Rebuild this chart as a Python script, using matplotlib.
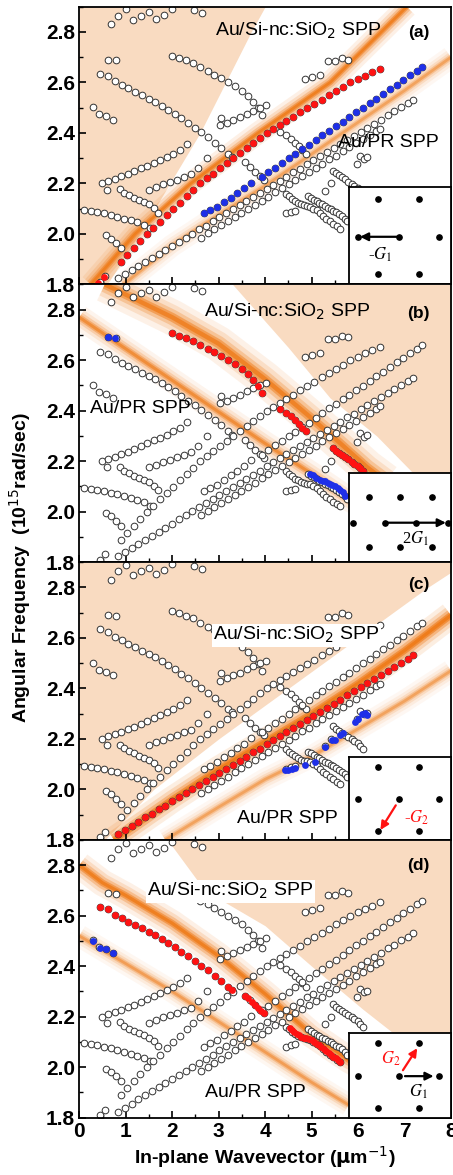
import matplotlib
matplotlib.use("Agg")
import matplotlib.pyplot as plt
from matplotlib.ticker import MultipleLocator

plt.rcParams['font.family'] = ['Liberation Sans', 'DejaVu Sans']

# --- open circles: measured modes (identical in all four panels) ---
top_x = [0.68, 0.84, 1.01, 1.16, 1.32, 1.50, 1.66, 1.82, 2.00, 2.47, 2.64]
top_y = [2.830, 2.865, 2.889, 2.849, 2.865, 2.878, 2.852, 2.869, 2.891, 2.885, 2.873]

pair_x = [0.62, 0.79]
pair_y = [2.690, 2.687]

sb_x = [0.30, 0.43, 0.58, 0.73]
sb_y = [2.502, 2.474, 2.466, 2.452]

d1_x = [0.45, 0.61, 0.76, 0.91, 1.05, 1.20, 1.34, 1.49, 1.63, 1.77, 1.92, 2.06,
        2.20, 2.35, 2.49, 2.63, 2.78, 2.92, 3.06, 3.20, 3.28]
d1_y = [2.634, 2.625, 2.604, 2.590, 2.576, 2.564, 2.550, 2.536, 2.524, 2.508, 2.492, 2.476,
        2.458, 2.440, 2.421, 2.402, 2.383, 2.362, 2.342, 2.318, 2.305]

d1b_x = [3.57, 3.68, 3.79, 3.89, 3.98]
d1b_y = [2.283, 2.265, 2.245, 2.228, 2.214]

d2_x = [2.00, 2.15, 2.30, 2.45, 2.60, 2.76, 2.91, 3.06, 3.21, 3.36, 3.50, 3.63, 3.74, 3.85, 3.93]
d2_y = [2.706, 2.697, 2.688, 2.677, 2.660, 2.645, 2.631, 2.616, 2.600, 2.584, 2.566, 2.545,
        2.522, 2.498, 2.470]

d3_x = [0.10, 0.245, 0.39, 0.53, 0.675, 0.82, 0.96, 1.105, 1.25, 1.39, 1.52]
d3_y = [2.094, 2.090, 2.086, 2.081, 2.074, 2.068, 2.061, 2.054, 2.046, 2.037, 2.024]

d4_x = [0.57, 0.675, 0.78, 0.89]
d4_y = [1.994, 1.981, 1.964, 1.944]

d5_x = [0.87, 0.96, 1.07, 1.18, 1.285, 1.39, 1.50, 1.61, 1.69]
d5_y = [2.177, 2.163, 2.153, 2.143, 2.134, 2.126, 2.117, 2.103, 2.084]

d6_x = [4.33, 4.45, 4.55, 4.64, 4.72, 4.80, 4.88]
d6_y = [2.405, 2.390, 2.377, 2.362, 2.348, 2.332, 2.318]

r1_x = [0.48, 0.62, 0.76, 0.90, 1.04, 1.18, 1.32, 1.46, 1.60, 1.74, 1.88, 2.02, 2.16, 2.31]
r1_y = [2.200, 2.210, 2.218, 2.228, 2.238, 2.248, 2.260, 2.270, 2.282, 2.293, 2.305, 2.318,
        2.333, 2.355]

r2_x = [1.51, 1.66, 1.81, 1.96, 2.11, 2.26, 2.41, 2.55]
r2_y = [2.175, 2.186, 2.197, 2.206, 2.215, 2.226, 2.236, 2.262]

r3_x = [3.03, 3.06, 3.17, 3.31, 3.45, 3.60, 3.74, 3.88, 4.02]
r3_y = [2.430, 2.460, 2.440, 2.452, 2.463, 2.476, 2.488, 2.500, 2.510]

r4_x = [5.47, 5.53, 5.60, 5.66, 5.73, 5.79, 5.86, 5.92, 5.99, 6.05, 6.11]
r4_y = [2.251, 2.240, 2.232, 2.224, 2.216, 2.207, 2.198, 2.190, 2.182, 2.172, 2.160]

lone_x = [0.60, 2.74, 0.45, 0.56, 5.29, 5.42, 4.45, 4.55, 4.64, 5.97, 6.05, 6.12, 6.19,
          4.86, 5.00, 5.18, 5.36, 5.50, 5.65, 5.79]
lone_y = [2.175, 2.300, 1.810, 1.832, 2.170, 2.200, 2.081, 2.087, 2.091, 2.277, 2.310, 2.297,
          2.303, 2.613, 2.621, 2.630, 2.683, 2.683, 2.697, 2.690]

dc1_x = [4.93, 4.99, 5.05, 5.11, 5.17, 5.23, 5.29, 5.35, 5.41, 5.47, 5.53, 5.59, 5.65, 5.71, 5.76]
dc1_y = [2.150, 2.143, 2.136, 2.129, 2.123, 2.117, 2.110, 2.104, 2.098, 2.092, 2.085, 2.078,
         2.070, 2.061, 2.050]

dc2_x = [4.46, 4.52, 4.58, 4.64, 4.70, 4.77, 4.83, 4.90, 4.97, 5.04, 5.11, 5.18, 5.25, 5.32,
         5.40, 5.47, 5.54, 5.61]
dc2_y = [2.160, 2.150, 2.140, 2.131, 2.124, 2.118, 2.114, 2.111, 2.108, 2.100, 2.093, 2.082,
         2.070, 2.060, 2.050, 2.040, 2.030, 2.021]

la_x = [0.89, 1.03, 1.17, 1.31, 1.45, 1.59, 1.73, 1.88, 2.02, 2.16, 2.31, 2.45, 2.60, 2.74,
        2.88, 3.03, 3.17, 3.31, 3.46, 3.60, 3.74, 3.89, 4.03, 4.17, 4.32, 4.46, 4.61, 4.76,
        4.91, 5.06, 5.22, 5.37, 5.52, 5.67, 5.83, 5.99, 6.15, 6.31, 6.47]
la_y = [1.889, 1.917, 1.945, 1.972, 2.000, 2.024, 2.049, 2.075, 2.099, 2.124, 2.150, 2.174,
        2.200, 2.220, 2.239, 2.260, 2.280, 2.299, 2.320, 2.340, 2.360, 2.380, 2.400, 2.416,
        2.432, 2.448, 2.464, 2.481, 2.498, 2.514, 2.532, 2.549, 2.566, 2.582, 2.600, 2.613,
        2.627, 2.640, 2.653]

lb_x = [2.68, 2.82, 2.97, 3.11, 3.26, 3.40, 3.55, 3.69, 3.93, 4.07, 4.22, 4.36, 4.51, 4.65,
        4.80, 4.94, 5.09, 5.23, 5.38, 5.52, 5.67, 5.81, 5.96, 6.10, 6.25, 6.39, 6.54, 6.68,
        6.83, 6.97, 7.12, 7.26, 7.37]
lb_y = [2.081, 2.094, 2.107, 2.127, 2.144, 2.163, 2.180, 2.203, 2.226, 2.244, 2.263, 2.280,
        2.299, 2.317, 2.336, 2.353, 2.372, 2.390, 2.409, 2.426, 2.445, 2.463, 2.482, 2.499,
        2.518, 2.536, 2.555, 2.573, 2.591, 2.609, 2.628, 2.646, 2.660]

lc_x = [0.84, 0.98, 1.13, 1.27, 1.42, 1.56, 1.71, 1.85, 2.00, 2.14, 2.29, 2.43, 2.58, 2.72,
        2.87, 3.01, 3.16, 3.30, 3.45, 3.59, 3.74, 3.88, 4.03, 4.17, 4.32, 4.46, 4.61, 4.75,
        4.90, 5.04, 5.19, 5.33, 5.48, 5.62, 5.77, 5.91, 6.06, 6.20, 6.35, 6.49, 6.64, 6.78,
        6.93, 7.07, 7.19]
lc_y = [1.824, 1.840, 1.856, 1.872, 1.889, 1.904, 1.921, 1.936, 1.953, 1.969, 1.985, 2.001,
        2.018, 2.033, 2.050, 2.066, 2.082, 2.098, 2.114, 2.130, 2.147, 2.162, 2.179, 2.195,
        2.211, 2.227, 2.244, 2.259, 2.276, 2.291, 2.308, 2.324, 2.340, 2.356, 2.373, 2.388,
        2.405, 2.421, 2.437, 2.453, 2.470, 2.485, 2.502, 2.517, 2.531]

ld_x = [2.62, 2.77, 2.91, 3.06, 3.20, 3.35, 3.49, 3.64, 3.78, 3.93, 4.07, 4.22, 4.36, 4.51,
        4.65, 4.80, 4.94, 5.09, 5.23, 5.38, 5.52, 5.67, 5.81, 5.96, 6.10, 6.25, 6.39, 6.47]
ld_y = [1.985, 2.002, 2.018, 2.034, 2.050, 2.067, 2.083, 2.099, 2.115, 2.132, 2.148, 2.165,
        2.180, 2.197, 2.213, 2.230, 2.245, 2.262, 2.278, 2.295, 2.310, 2.327, 2.343, 2.360,
        2.375, 2.392, 2.408, 2.417]

# --- highlighted (filled) points per panel ---
a_red_x = [0.41, 0.54] + la_x
a_red_y = [1.805, 1.830] + la_y
a_blue_x = lb_x
a_blue_y = lb_y

b_red_x = d2_x + d6_x + r4_x
b_red_y = d2_y + d6_y + r4_y
b_blue_x = [0.62, 0.77, 4.97, 5.03, 5.10, 5.18, 5.24, 5.29, 5.35, 5.40, 5.45, 5.50, 5.56,
            5.61, 5.67, 5.72]
b_blue_y = [2.690, 2.688, 2.150, 2.144, 2.134, 2.126, 2.122, 2.120, 2.115, 2.111, 2.105,
            2.100, 2.094, 2.087, 2.076, 2.063]

c_red_x = lc_x
c_red_y = lc_y
c_blue_x = [4.43, 4.50, 4.57, 4.64, 4.86, 5.07, 5.29, 5.43, 5.50, 5.61, 5.68, 5.93, 6.00,
            6.08, 6.15, 6.19]
c_blue_y = [2.075, 2.078, 2.080, 2.086, 2.095, 2.108, 2.168, 2.194, 2.197, 2.214, 2.223,
            2.267, 2.280, 2.297, 2.303, 2.293]

d_red_x = d1_x + [3.57, 3.64, 3.71, 3.78, 3.85, 3.92, 3.98] + \
    [4.53, 4.58, 4.63, 4.68, 4.73, 4.78, 4.83, 4.88, 4.94, 5.00, 5.05, 5.11, 5.16, 5.21,
     5.26, 5.31, 5.37, 5.42, 5.47, 5.52, 5.57, 5.61]
d_red_y = d1_y + [2.283, 2.272, 2.259, 2.247, 2.235, 2.223, 2.214] + \
    [2.157, 2.146, 2.139, 2.133, 2.127, 2.121, 2.117, 2.114, 2.111, 2.107, 2.100, 2.093,
     2.086, 2.078, 2.070, 2.064, 2.056, 2.050, 2.042, 2.035, 2.027, 2.021]
d_blue_x = [0.30, 0.45, 0.58, 0.73]
d_blue_y = [2.500, 2.472, 2.468, 2.452]

# --- simulated bands (orange) and light background regions ---
a_sinc_x = [0.25, 1.20, 2.40, 3.85, 5.40, 6.50, 7.05]
a_sinc_y = [1.80, 2.00, 2.20, 2.40, 2.60, 2.80, 2.90]
a_pr_x = [0.95, 2.00, 3.00, 4.00, 5.00, 6.00, 7.00, 8.00]
a_pr_y = [1.80, 1.954, 2.075, 2.190, 2.316, 2.442, 2.568, 2.700]
a_bg_y = [1.80, 2.00, 2.40, 2.80, 2.90]
a_bg_x = [0.60, 1.30, 2.60, 3.70, 4.00]

b_sinc_x = [0.55, 2.00, 3.00, 4.00, 5.00, 5.50, 6.20, 6.60]
b_sinc_y = [2.90, 2.77, 2.665, 2.525, 2.37, 2.29, 2.175, 2.12]
b_pr_x = [0.0, 1.0, 2.0, 3.0, 4.0, 5.0, 5.8, 6.3]
b_pr_y = [2.77, 2.645, 2.52, 2.395, 2.27, 2.15, 2.05, 2.00]
b_bg_y = [2.90, 2.65, 2.45, 2.30, 2.15, 1.80]
b_bg_x = [3.30, 4.50, 5.40, 6.40, 7.20, 8.00]

c_sinc_x = [0.75, 2.0, 3.0, 4.0, 5.0, 6.0, 7.0, 8.0]
c_sinc_y = [1.80, 1.96, 2.08, 2.19, 2.30, 2.42, 2.55, 2.69]
c_pr_x = [1.85, 3.0, 4.0, 5.0, 6.0, 7.0, 8.0]
c_pr_y = [1.80, 1.93, 2.04, 2.13, 2.24, 2.35, 2.47]
c_bg_x = [0.0, 0.55, 1.6, 3.0, 4.5, 6.0, 7.5, 8.0]
c_bg_y = [1.80, 1.80, 2.0, 2.2, 2.4, 2.6, 2.8, 2.86]

d_sinc_x = [0.0, 0.5, 1.0, 2.0, 3.0, 4.0, 5.0, 5.8, 6.2]
d_sinc_y = [2.80, 2.73, 2.68, 2.57, 2.44, 2.29, 2.13, 2.03, 1.99]
d_pr_x = [0.0, 1.0, 2.0, 3.0, 4.0, 5.0, 5.8]
d_pr_y = [2.52, 2.41, 2.30, 2.18, 2.06, 1.94, 1.85]
d_bg_x = [1.9, 2.7, 4.0, 5.0, 6.1, 7.0, 8.0]
d_bg_y = [2.90, 2.70, 2.56, 2.40, 2.23, 2.10, 1.95]

# --- reciprocal lattice insets (inset-axes units) ---
hex_u = [0.29, 0.69, 0.09, 0.495, 0.88, 0.29, 0.69]
hex_v = [0.88, 0.88, 0.49, 0.49, 0.49, 0.11, 0.11]
rect_u = [0.195, 0.497, 0.812, 0.04, 0.351, 0.659, 0.968, 0.195, 0.497, 0.812]
rect_v = [0.737, 0.737, 0.737, 0.444, 0.444, 0.444, 0.444, 0.173, 0.173, 0.173]

open_segments = [(top_x, top_y), (pair_x, pair_y), (sb_x, sb_y), (d1_x, d1_y),
                 (d1b_x, d1b_y), (d2_x, d2_y), (d3_x, d3_y), (d4_x, d4_y), (d5_x, d5_y),
                 (d6_x, d6_y), (r1_x, r1_y), (r2_x, r2_y), (r3_x, r3_y), (r4_x, r4_y),
                 (lone_x, lone_y), (dc1_x, dc1_y), (dc2_x, dc2_y), (la_x, la_y),
                 (lb_x, lb_y), (lc_x, lc_y), (ld_x, ld_y)]

PEACH = '#f9dbc1'
ORANGE = '#ef7d1c'
RED = '#ff1212'
BLUE = '#1e2fe8'


def band(ax, x, y, strong=1.0, wide=1.0):
    for lw, a in [(16, 0.10), (11, 0.16), (7, 0.28), (4, 0.5), (2, 0.8)]:
        ax.plot(x, y, color=ORANGE, lw=lw * wide, alpha=min(1.0, a * strong),
                solid_capstyle='butt', zorder=1)


def setup(ax, bottom=False):
    ax.set_xlim(0, 8)
    ax.set_ylim(1.8, 2.9)
    ax.xaxis.set_major_locator(MultipleLocator(1))
    ax.xaxis.set_minor_locator(MultipleLocator(0.5))
    ax.yaxis.set_major_locator(MultipleLocator(0.2))
    ax.yaxis.set_minor_locator(MultipleLocator(0.1))
    ax.tick_params(which='major', direction='in', length=5, width=1.2,
                   labelsize=15, pad=3, labelbottom=bottom)
    ax.tick_params(which='minor', direction='in', length=3, width=1.0)
    for lab in ax.get_xticklabels() + ax.get_yticklabels():
        lab.set_fontweight('bold')
    for s in ax.spines.values():
        s.set_linewidth(1.3)
    for sx, sy in open_segments:
        ax.plot(sx, sy, 'o', ms=4.8, mfc='white', mec='#333333', mew=0.7, zorder=2)


def inset(ax, h, u, v):
    ins = ax.inset_axes([0.725, 0.0, 0.275, h])
    ins.set_xlim(0, 1)
    ins.set_ylim(0, 1)
    ins.set_xticks([])
    ins.set_yticks([])
    for s in ins.spines.values():
        s.set_linewidth(1.3)
    ins.plot(u, v, 'o', color='black', ms=3.8, zorder=3)
    return ins


def arrow(ins, start, end, color):
    ins.annotate('', xy=end, xytext=start,
                 arrowprops=dict(arrowstyle='-|>', color=color, lw=1.6,
                                 mutation_scale=12, shrinkA=0, shrinkB=0))


fig = plt.figure(figsize=(4.53, 11.75), dpi=100)
left, width, h = 0.175, 0.8205, 0.23638
axes = [fig.add_axes([left, 0.0488 + h * i, width, h]) for i in (3, 2, 1, 0)]
ax_a, ax_b, ax_c, ax_d = axes

sty = dict(fontsize=14)
plab = dict(ha='center', va='center', fontsize=12.5, fontweight='bold')
glab = dict(fontsize=12, family='Liberation Serif', math_fontfamily='stix')

# (a)
ax_a.fill_betweenx(a_bg_y, 0, a_bg_x, color=PEACH, lw=0, zorder=0)
band(ax_a, a_sinc_x, a_sinc_y, 1.1)
band(ax_a, a_pr_x, a_pr_y, 0.55)
setup(ax_a)
ax_a.plot(a_red_x, a_red_y, 'o', ms=4.9, color=RED, mew=0, zorder=3)
ax_a.plot(a_blue_x, a_blue_y, 'o', ms=4.9, color=BLUE, mew=0, zorder=3)
ax_a.text(2.92, 2.804, r'Au/Si-nc:SiO$_2$ SPP', va='center', **sty)
ax_a.text(5.57, 2.363, 'Au/PR SPP', va='center', **sty)
ax_a.text(7.31, 2.796, '(a)', **plab)
ins = inset(ax_a, 0.35, hex_u, hex_v)
arrow(ins, (0.47, 0.49), (0.11, 0.49), 'black')
ins.text(0.31, 0.30, r'-$G_1$', ha='center', va='center', **glab)

# (b)
ax_b.fill_betweenx(b_bg_y, b_bg_x, 8, color=PEACH, lw=0, zorder=0)
band(ax_b, b_sinc_x, b_sinc_y, 1.0, 1.6)
band(ax_b, b_pr_x, b_pr_y, 0.8, 1.1)
setup(ax_b)
ax_b.plot(b_red_x, b_red_y, 'o', ms=4.9, color=RED, mew=0, zorder=3)
ax_b.plot(b_blue_x, b_blue_y, 'o', ms=4.9, color=BLUE, mew=0, zorder=3)
ax_b.text(2.68, 2.79, r'Au/Si-nc:SiO$_2$ SPP', va='center', **sty)
ax_b.text(0.23, 2.407, 'Au/PR SPP', va='center', **sty)
ax_b.text(7.3, 2.785, '(b)', **plab)
ins = inset(ax_b, 0.32, rect_u, rect_v)
arrow(ins, (0.351, 0.444), (0.95, 0.444), 'black')
ins.text(0.65, 0.26, r'2$G_1$', ha='center', va='center', **glab)

# (c)
ax_c.fill_between(c_bg_x, c_bg_y, 2.9, color=PEACH, lw=0, zorder=0)
band(ax_c, c_sinc_x, c_sinc_y, 1.3, 1.2)
band(ax_c, c_pr_x, c_pr_y, 0.55)
setup(ax_c)
ax_c.plot(c_red_x, c_red_y, 'o', ms=4.9, color=RED, mew=0, zorder=3)
ax_c.plot(c_blue_x, c_blue_y, 'o', ms=4.9, color=BLUE, mew=0, zorder=3)
ax_c.text(2.88, 2.611, r'Au/Si-nc:SiO$_2$ SPP', va='center', zorder=4,
          bbox=dict(facecolor='white', edgecolor='none', pad=1), **sty)
ax_c.text(3.4, 1.885, 'Au/PR SPP', va='center', **sty)
ax_c.text(7.3, 2.81, '(c)', **plab)
ins = inset(ax_c, 0.30, hex_u, hex_v)
arrow(ins, (0.46, 0.415), (0.31, 0.12), RED)
ins.text(0.66, 0.27, r'-$G_2$', ha='center', va='center', color=RED, **glab)

# (d)
ax_d.fill_between(d_bg_x, d_bg_y, 2.9, color=PEACH, lw=0, zorder=0)
band(ax_d, d_sinc_x, d_sinc_y, 1.1, 1.2)
band(ax_d, d_pr_x, d_pr_y, 0.6)
setup(ax_d, bottom=True)
ax_d.plot(d_red_x, d_red_y, 'o', ms=4.9, color=RED, mew=0, zorder=3)
ax_d.plot(d_blue_x, d_blue_y, 'o', ms=4.9, color=BLUE, mew=0, zorder=3)
ax_d.text(1.46, 2.697, r'Au/Si-nc:SiO$_2$ SPP', va='center', zorder=4,
          bbox=dict(facecolor='white', edgecolor='none', pad=1), **sty)
ax_d.text(2.71, 1.899, 'Au/PR SPP', va='center', **sty)
ax_d.text(7.3, 2.80, '(d)', **plab)
ins = inset(ax_d, 0.305, hex_u, hex_v)
arrow(ins, (0.55, 0.49), (0.83, 0.49), 'black')
arrow(ins, (0.53, 0.56), (0.67, 0.82), RED)
ins.text(0.68, 0.30, r'$G_1$', ha='center', va='center', **glab)
ins.text(0.41, 0.70, r'$G_2$', ha='center', va='center', color=RED, **glab)

ax_d.set_xlabel(r'In-plane Wavevector ($\mathbf{\mu}$m$^{-1}$)', fontsize=14,
                fontweight='bold', labelpad=2)
fig.text(0.045, 0.517, r'Angular Frequency  (10$^{15}$rad/sec)', rotation=90,
         ha='center', va='center', fontsize=14, fontweight='bold')

fig.savefig('out.png', dpi=100)
